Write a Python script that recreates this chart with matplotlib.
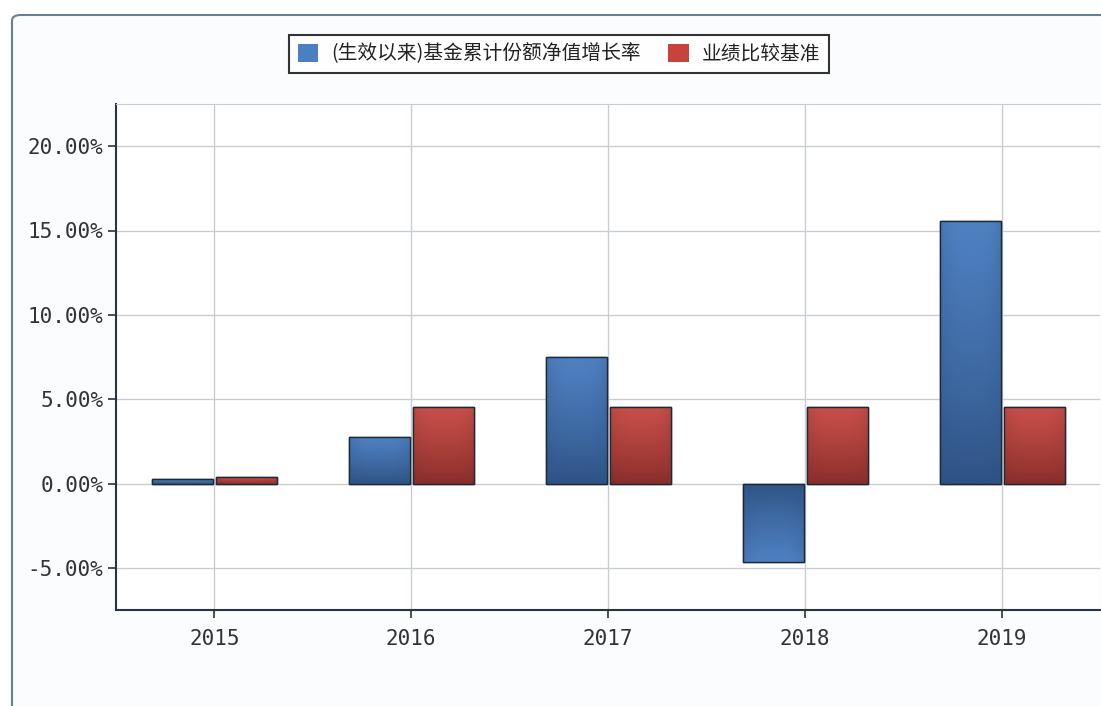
import numpy as np
import matplotlib
matplotlib.use("Agg")
import matplotlib.pyplot as plt
from matplotlib.patches import Patch, FancyBboxPatch
from matplotlib.colors import LinearSegmentedColormap

plt.rcParams['font.family'] = ['Noto Sans CJK SC', 'DejaVu Sans']

years = ['2015', '2016', '2017', '2018', '2019']
fund_growth = [0.25, 2.78, 7.52, -4.68, 15.58]
benchmark = [0.40, 4.55, 4.55, 4.55, 4.55]
series_names = ['(生效以来)基金累计份额净值增长率', '业绩比较基准']
yticks = [-5, 0, 5, 10, 15, 20]

blue_light, blue_dark = '#4f81c2', '#2d5183'
red_light, red_dark = '#c9504a', '#862c29'

fig = plt.figure(figsize=(11.01, 7.06), dpi=100)
fig.patch.set_facecolor('white')

# outer rounded panel (cut off at right and bottom)
W, H = 1101.0, 706.0
frame = FancyBboxPatch((12 / W, -0.05), 1.2, (H - 15) / H + 0.05,
                       boxstyle="round,pad=0,rounding_size=0.008",
                       transform=fig.transFigure, facecolor='#fbfcfe',
                       edgecolor='#6b7f94', linewidth=1.5, zorder=0)
fig.patches.append(frame)

ax = fig.add_axes([116 / W, 1 - 610 / H, (1100 - 116) / W, (610 - 104) / H])
ax.set_facecolor('white')
ax.set_zorder(1)


def gradient_bar(ax, x, h, width, light, dark):
    bar = ax.bar(x, h, width, color=light, edgecolor='#1e2a38',
                 linewidth=1.0, zorder=3)[0]
    cmap = LinearSegmentedColormap.from_list('g', [dark, light])
    # lighter at the value end, darker at the base line
    grad = np.linspace(0, 1, 100).reshape(-1, 1) ** 0.8
    horiz = 1 - 0.25 * np.abs(np.linspace(-1, 1, 50)) ** 3
    img = grad * horiz
    im = ax.imshow(img, cmap=cmap, extent=(x - width / 2, x + width / 2, 0, h),
                   origin='lower', aspect='auto', zorder=3.5, vmin=0, vmax=1,
                   interpolation='bilinear')
    im.set_clip_path(bar)
    ax.bar(x, h, width, color='none', edgecolor='#1e2a38',
           linewidth=1.0, zorder=4)


x = np.arange(len(years))
w = 0.31
for i in range(len(years)):
    gradient_bar(ax, x[i] - 0.16, fund_growth[i], w, blue_light, blue_dark)
    gradient_bar(ax, x[i] + 0.165, benchmark[i], w, red_light, red_dark)

ax.set_xlim(-0.5, 4.5)
ax.set_ylim(-7.5, 22.5)
ax.set_xticks(x)
ax.set_xticklabels(years)
ax.set_yticks(yticks)
ax.set_yticklabels(['%.2f%%' % v for v in yticks])

for lab in ax.get_xticklabels() + ax.get_yticklabels():
    lab.set_fontfamily('DejaVu Sans Mono')
    lab.set_fontsize(15)
    lab.set_color('#333333')

ax.tick_params(axis='y', direction='out', length=6, width=1.2,
               color='#2a3440', pad=3)
ax.tick_params(axis='x', direction='out', length=6, width=1.2,
               color='#2a3440', pad=8)

ax.grid(True, color='#c9cdd3', linewidth=1.0, zorder=1)
ax.set_axisbelow(True)

ax.spines['left'].set_color('#2a3440')
ax.spines['left'].set_linewidth(1.5)
ax.spines['bottom'].set_color('#2a3440')
ax.spines['bottom'].set_linewidth(1.5)
ax.spines['top'].set_color('#c9cdd3')
ax.spines['right'].set_visible(False)

handles = [Patch(facecolor='#4a7fc1', edgecolor='none'),
           Patch(facecolor='#c8423e', edgecolor='none')]
leg = fig.legend(handles, series_names, loc='center',
                 bbox_to_anchor=(559 / W, 1 - 54 / H), ncol=2,
                 frameon=True, fancybox=False, edgecolor='black',
                 fontsize=14.2, handlelength=1.05, handleheight=1.05,
                 handletextpad=0.65, columnspacing=1.4, borderpad=0.45,
                 borderaxespad=0.0, labelcolor='#222222')
leg.get_frame().set_linewidth(1.5)

fig.savefig('out.png', dpi=100)
